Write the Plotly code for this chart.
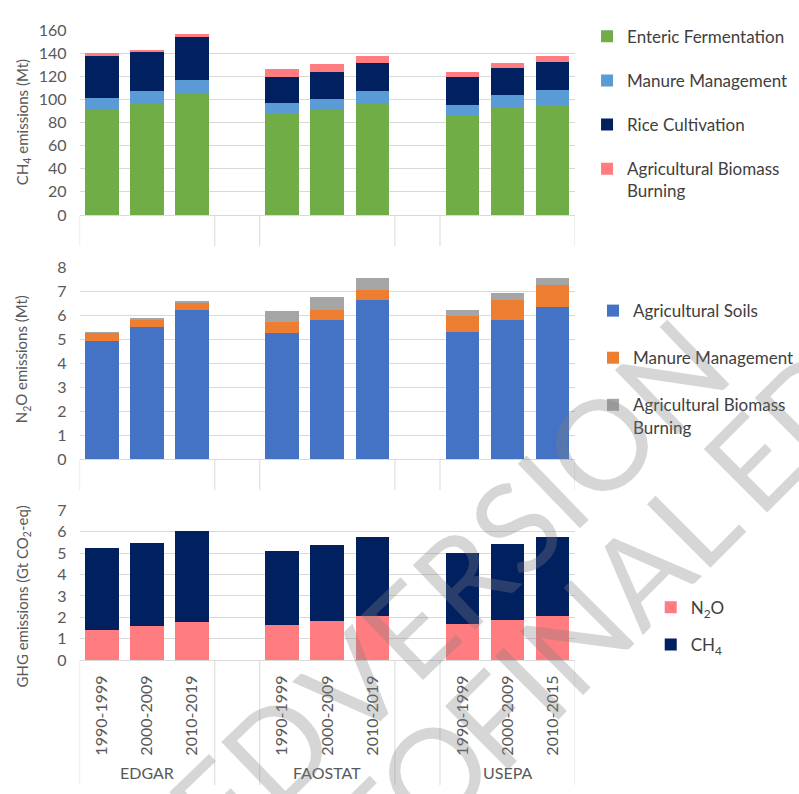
import plotly.graph_objects as go

# ---------------- data ----------------
sources = ["EDGAR", "FAOSTAT", "USEPA"]
periods = [
    ["1990-1999", "2000-2009", "2010-2019"],
    ["1990-1999", "2000-2009", "2010-2019"],
    ["1990-1999", "2000-2009", "2010-2015"],
]

# CH4 emissions (Mt)
ch4_enteric = [91.0, 95.8, 104.5, 87.9, 91.0, 96.9, 85.9, 93.0, 95.2]
ch4_manure = [10.7, 11.5, 12.1, 9.0, 9.3, 10.1, 9.3, 10.9, 12.7]
ch4_rice = [36.6, 34.1, 37.2, 22.8, 23.4, 24.3, 24.2, 23.4, 24.8]
ch4_burning = [1.7, 1.7, 2.8, 6.8, 7.0, 6.2, 4.0, 4.5, 4.8]

# N2O emissions (Mt)
n2o_soils = [4.94, 5.54, 6.24, 5.28, 5.82, 6.63, 5.29, 5.82, 6.35]
n2o_manure = [0.35, 0.31, 0.33, 0.43, 0.41, 0.43, 0.71, 0.83, 0.92]
n2o_burning = [0.03, 0.03, 0.04, 0.49, 0.56, 0.49, 0.23, 0.29, 0.29]

# GHG emissions (Gt CO2-eq)
ghg_n2o = [1.40, 1.58, 1.78, 1.66, 1.83, 2.04, 1.67, 1.86, 2.04]
ghg_ch4 = [3.82, 3.88, 4.25, 3.44, 3.53, 3.73, 3.35, 3.59, 3.73]

# ---------------- category layout (blank category between sources) ----------------
n_per = len(periods[0])
xpos = []
ticktext = []
group_centers = []
dividers = []
for g, src in enumerate(sources):
    start = g * (n_per + 1)
    pos = [start + i for i in range(n_per)]
    xpos += pos
    ticktext += periods[g]
    group_centers.append(sum(pos) / n_per)
    dividers += [start - 0.5, start + n_per - 0.5]
xrange_ = [-0.5, (len(sources) - 1) * (n_per + 1) + n_per - 0.5]

W, H = 799, 794
def py(pix):
    return 1 - pix / H

FONT = "Lato"
TXT = "#595959"
LEG = "#404040"
GRID = "#D9D9D9"

fig = go.Figure()

def add_bar(name, vals, color, xa, ya, legend, group):
    fig.add_trace(go.Bar(
        x=xpos, y=vals, name=name, marker=dict(color=color, line=dict(width=0)),
        width=0.75, xaxis=xa, yaxis=ya, legend=legend, legendgroup=group,
    ))

add_bar("Enteric Fermentation", ch4_enteric, "#70AD47", "x", "y", "legend", "a1")
add_bar("Manure Management", ch4_manure, "#5B9BD5", "x", "y", "legend", "a2")
add_bar("Rice Cultivation", ch4_rice, "#002060", "x", "y", "legend", "a3")
add_bar("Agricultural Biomass<br>Burning", ch4_burning, "#FF7C80", "x", "y", "legend", "a4")

add_bar("Agricultural Soils", n2o_soils, "#4472C4", "x2", "y2", "legend2", "b1")
add_bar("Manure Management", n2o_manure, "#ED7D31", "x2", "y2", "legend2", "b2")
add_bar("Agricultural Biomass<br>Burning", n2o_burning, "#A5A5A5", "x2", "y2", "legend2", "b3")

add_bar("N<sub>2</sub>O", ghg_n2o, "#FF7C80", "x3", "y3", "legend3", "c1")
add_bar("CH<sub>4</sub>", ghg_ch4, "#002060", "x3", "y3", "legend3", "c2")

xdom = [80 / W, 578 / W]
panels = [
    # (y-axis name, bottom px, top px, range, dtick, title, title center px)
    ("y", 210, 20.7, [0, 160], 20, "CH<sub>4</sub> emissions (Mt)", 115),
    ("y2", 460, 264, [0, 8], 1, "N<sub>2</sub>O emissions (Mt)", 358),
    ("y3", 666, 512.7, [0, 7], 1, "GHG emissions (Gt CO<sub>2</sub>-eq)", 601),
]

layout = dict(
    width=W, height=H, autosize=False,
    margin=dict(l=0, r=0, t=0, b=0),
    paper_bgcolor="white", plot_bgcolor="white",
    barmode="stack", bargap=0.25,
    font=dict(family=FONT, size=15, color=TXT),
    showlegend=True,
)

annotations = []
shapes = []
for i, (yname, bot, top, rng, dt, title, tc) in enumerate(panels):
    suffix = "" if i == 0 else str(i + 1)
    xa = "xaxis" + suffix
    ya = "yaxis" + suffix
    last = i == len(panels) - 1
    xax = dict(
        domain=xdom, anchor="y" + suffix, range=xrange_,
        showgrid=False, zeroline=False, showline=True, linecolor=GRID, linewidth=1,
        showticklabels=last, ticks="",
    )
    if last:
        xax.update(
            tickmode="array", tickvals=xpos, ticktext=ticktext, tickangle=-90,
            ticklabelstandoff=8, tickfont=dict(family=FONT, size=16, color=TXT),
        )
    layout[xa] = xax
    layout[ya] = dict(
        domain=[py(bot), py(top)], anchor="x" + suffix, range=rng, dtick=dt,
        showgrid=True, gridcolor=GRID, gridwidth=1, zeroline=False, showline=False,
        ticks="", ticklabelstandoff=12,
        tickfont=dict(family=FONT, size=16, color=TXT),
    )
    annotations.append(dict(
        text=title, textangle=-90, xref="paper", yref="paper",
        x=23 / W, y=py(tc), xanchor="center", yanchor="middle", showarrow=False,
        font=dict(family=FONT, size=15, color=TXT),
    ))
    # category divider lines below each axis
    y_end = 0 if last else py(bot + 32)
    for d in dividers:
        shapes.append(dict(
            type="line", xref="x" + suffix, yref="paper",
            x0=d, x1=d, y0=py(bot), y1=y_end,
            line=dict(color=GRID, width=1),
        ))

for src, c in zip(sources, group_centers):
    annotations.append(dict(
        text=src, xref="x3", yref="paper", x=c, y=py(781),
        xanchor="center", yanchor="middle", showarrow=False,
        font=dict(family=FONT, size=16, color=TXT),
    ))

# watermark of the source document
WM = "rgba(128,128,128,0.32)"
for word, cx, cy, ang in [("ACCEPTED", 82, 948, -44), ("VERSION", 515, 530, -44),
                          ("TO", 410, 805, -45), ("FINAL", 593, 625, -45),
                          ("EDITS", 851, 364, -45)]:
    annotations.append(dict(
        text=word, textangle=ang, xref="paper", yref="paper",
        x=cx / W, y=py(cy), xanchor="center", yanchor="middle", showarrow=False,
        font=dict(family=FONT, size=125, color=WM),
    ))

leg_common = dict(
    xanchor="left", yanchor="top", bgcolor="rgba(0,0,0,0)",
    font=dict(family=FONT, size=17, color=LEG), traceorder="grouped",
    valign="top", itemwidth=30, orientation="v",
)
layout["legend"] = dict(leg_common, x=590 / W, y=py(9), tracegroupgap=19)
layout["legend2"] = dict(leg_common, x=596 / W, y=py(290), tracegroupgap=22)
layout["legend3"] = dict(leg_common, x=654 / W, y=py(594), tracegroupgap=12)

layout["annotations"] = annotations
layout["shapes"] = shapes
fig.update_layout(**layout)

fig.write_html(
    "out.html",
    config={"displayModeBar": False},
    post_script="document.body.style.margin='0';document.body.style.overflow='hidden';",
)
